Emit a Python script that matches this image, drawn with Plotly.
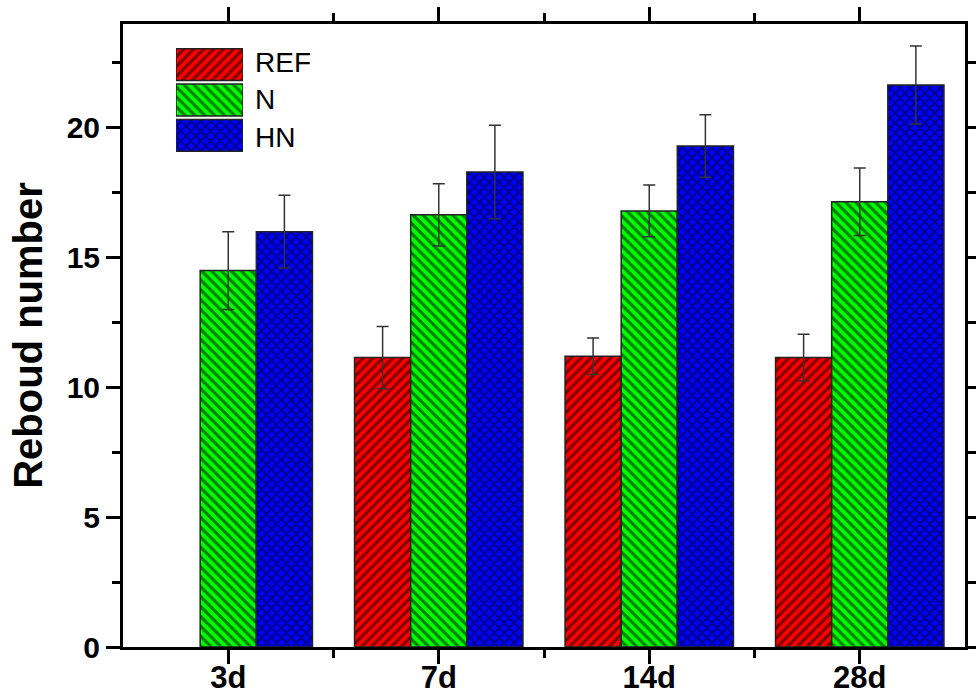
import plotly.graph_objects as go

categories = ["3d", "7d", "14d", "28d"]
series_names = ["REF", "N", "HN"]
ref_values = [None, 11.15, 11.2, 11.15]
ref_err = [0, 1.2, 0.7, 0.9]
n_values = [14.5, 16.65, 16.8, 17.15]
n_err = [1.5, 1.2, 1.0, 1.3]
hn_values = [16.0, 18.3, 19.3, 21.65]
hn_err = [1.4, 1.8, 1.2, 1.5]
y_ticks = [0, 5, 10, 15, 20]

colors = ["#ff0000", "#00ff00", "#0000ff"]
shapes = ["/", "\\", "x"]
FONT = "Liberation Sans, Arial, sans-serif"

x_pos = list(range(len(categories)))
fig = go.Figure()
for name, vals, errs, col, shp in zip(series_names, [ref_values, n_values, hn_values],
                                      [ref_err, n_err, hn_err], colors, shapes):
    fig.add_trace(go.Bar(
        x=x_pos, y=vals, name=name, showlegend=False,
        marker=dict(color=col, line=dict(color="#222222", width=1.5),
                    pattern=dict(shape=shp, fgcolor="#000000", bgcolor=col,
                                 size=7, solidity=0.45, fillmode="overlay")),
        error_y=dict(type="data", array=errs, visible=True, color="#333333",
                     thickness=1.5, width=6),
    ))

# legend swatches drawn as bars on a small overlay axis
for i, (name, col, shp) in enumerate(zip(series_names, colors, shapes)):
    fig.add_trace(go.Bar(
        x=[1], y=[i], orientation="h", xaxis="x2", yaxis="y2", width=0.9,
        showlegend=False, hoverinfo="skip",
        marker=dict(color=col, line=dict(color="#222222", width=1.5),
                    pattern=dict(shape=shp, fgcolor="#000000", bgcolor=col,
                                 size=7, solidity=0.45, fillmode="overlay")),
    ))

W, H = 976, 698
ml, mr, mt, mb = 123, 11, 24, 51
pw, ph = W - ml - mr, H - mt - mb

def px_x(x):
    return (x - ml) / pw

def px_y(y):
    return (H - mb - y) / ph

label_y = [63, 100, 137]
annotations = []
for name, ly in zip(series_names, label_y):
    annotations.append(dict(text=name, x=px_x(253), y=px_y(ly), xref="paper", yref="paper",
                            xanchor="left", yanchor="middle", showarrow=False,
                            font=dict(family=FONT, size=28, color="#000")))

axis_common = dict(showline=True, linecolor="#000", linewidth=3, mirror="allticks",
                   ticks="outside", tickcolor="#000", tickwidth=3, showgrid=False,
                   zeroline=False, automargin=False)

fig.update_layout(
    width=W, height=H,
    margin=dict(l=ml, r=mr, t=mt, b=mb, autoexpand=False),
    paper_bgcolor="white", plot_bgcolor="white",
    barmode="group", bargap=0.2, bargroupgap=0,
    font=dict(family=FONT, color="#000"),
    showlegend=False,
    xaxis=dict(range=[-0.5, 3.5], tickmode="array", tickvals=x_pos, ticktext=categories,
               ticklen=14, ticklabelstandoff=-13,
               tickfont=dict(family=FONT, size=31, color="#000", weight="bold"),
               minor=dict(tickmode="array", tickvals=[0.5, 1.5, 2.5], ticklen=8,
                          tickwidth=3, tickcolor="#000", ticks="outside"),
               **axis_common),
    yaxis=dict(range=[0, 24], tickmode="array", tickvals=y_ticks, ticklen=14,
               tickfont=dict(family=FONT, size=30, color="#000", weight="bold"),
               title=dict(text="Reboud number", standoff=12,
                          font=dict(family=FONT, size=40, color="#000", weight="bold")),
               minor=dict(dtick=2.5, tick0=0, ticklen=8, tickwidth=3, tickcolor="#000",
                          ticks="outside"),
               **axis_common),
    xaxis2=dict(domain=[px_x(176), px_x(243)], range=[0, 1], visible=False, anchor="y2"),
    yaxis2=dict(domain=[px_y(153), px_y(47)], range=[2.5, -0.5], visible=False, anchor="x2"),
    annotations=annotations,
)

fig.write_html("out.html")
